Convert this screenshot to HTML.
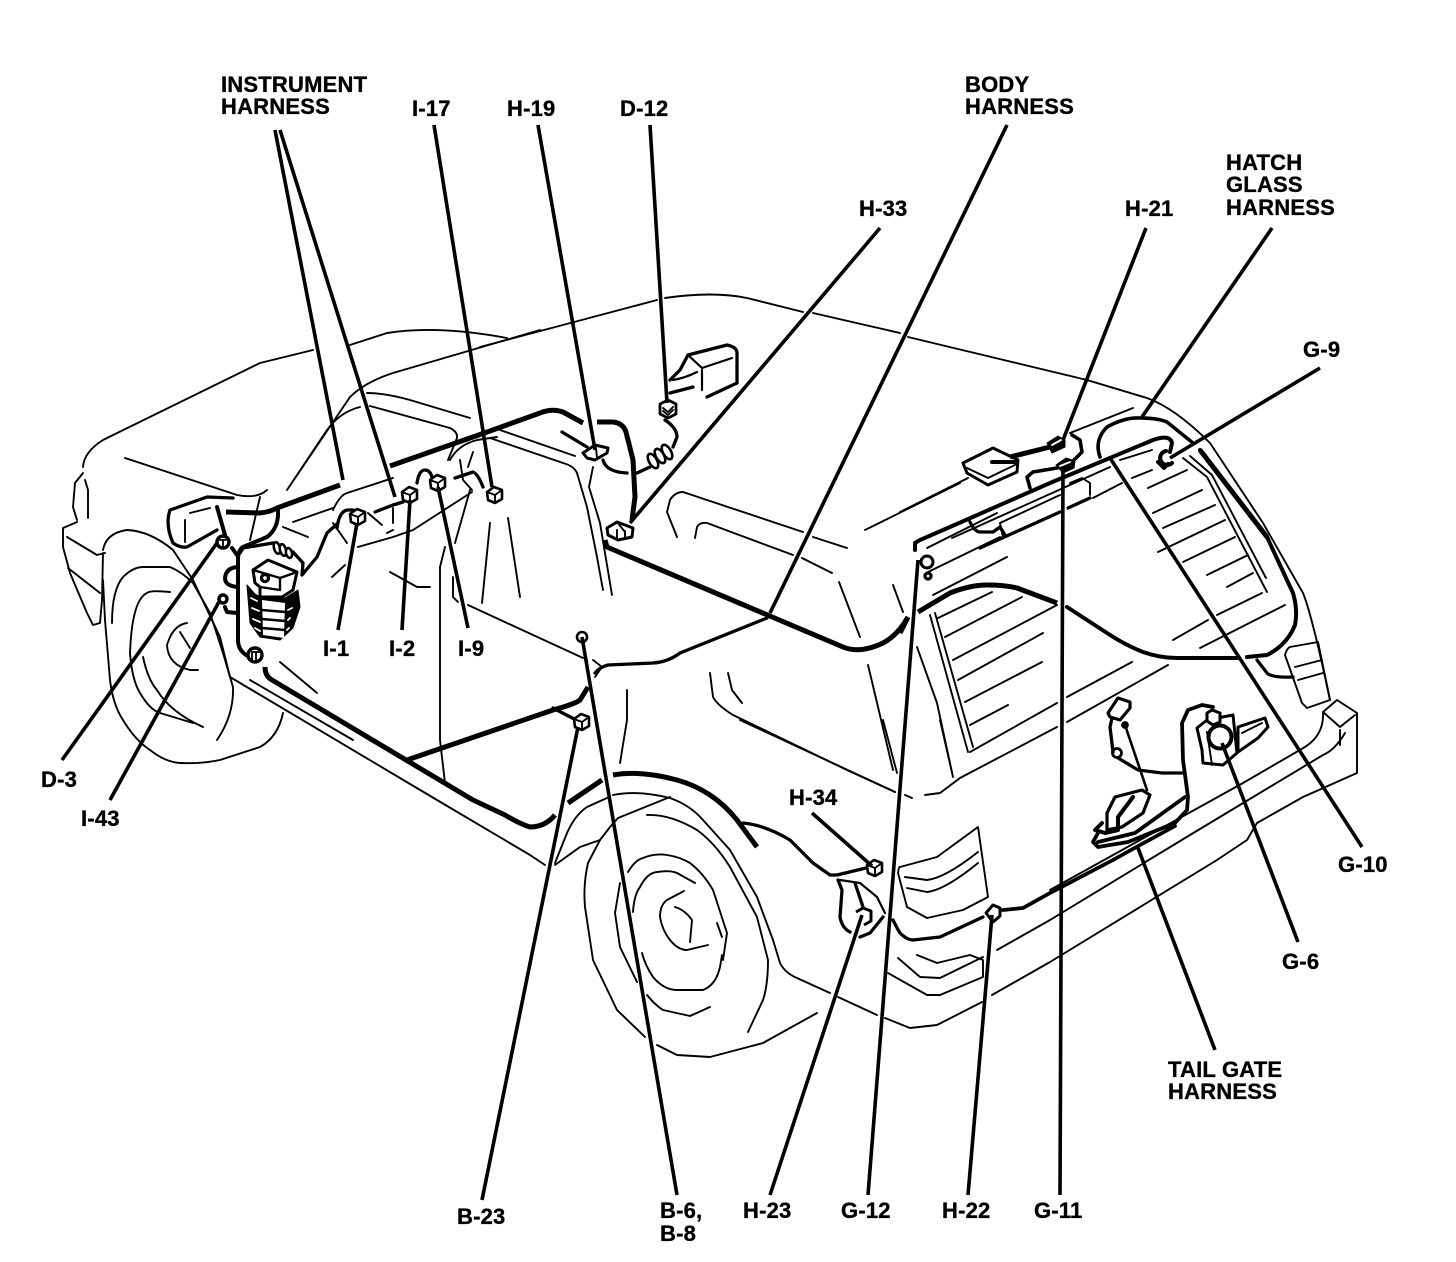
<!DOCTYPE html>
<html><head><meta charset="utf-8"><style>
html,body{margin:0;padding:0;background:#fff}
svg{display:block}
text{font-family:"Liberation Sans",sans-serif;font-weight:700;font-size:22px;letter-spacing:.2px;fill:#000;stroke:#000;stroke-width:.35}
.t{fill:none;stroke:#000;stroke-width:1.9;stroke-linejoin:round;stroke-linecap:round}
.m{fill:none;stroke:#000;stroke-width:3.3;stroke-linejoin:round;stroke-linecap:round}
.k{fill:none;stroke:#000;stroke-width:5;stroke-linejoin:round}
.l{fill:none;stroke:#000;stroke-width:3.6;stroke-linecap:butt}
.c{fill:#fff;stroke:#000;stroke-width:2.6;stroke-linejoin:round}
.b{fill:#000;stroke:#000;stroke-width:1;stroke-linejoin:round}
.w{fill:#fff;stroke:none}
</style></head><body>
<svg width="1456" height="1262" viewBox="0 0 1456 1262" xmlns="http://www.w3.org/2000/svg">
<defs><g id="cube"><path class="c" d="M-8,-3 L-1,-8 L7,-5 L7,4 L0,8 L-7,5 Z"/><path class="t" d="M-8,-3 L0,0 L7,-5 M0,0 L0,8"/></g></defs>

<!-- body outlines -->
<path class="t" d="M83,467 Q84,452 103,440 L260,363 L313,350 M350,345 L387,333 Q437,325 507,338"/>
<path class="t" d="M480,347 L657,300 M665,298 Q713,291 747,298 L803,312 M813,313 L900,333 M908,337 L1087,380 L1147,398 Q1175,408 1210,443 L1263,523 L1303,593 Q1312,615 1330,700"/>
<path class="t" d="M540,330 L393,373 Q365,382 350,397 L287,490 M287,490 L327,430 Q340,412 360,407"/>
<path class="t" d="M367,393 Q385,393 410,400 L470,418 M370,406 L450,428 Q458,432 457,438 L448,460 M450,460 Q458,445 477,440 L497,437 M460,460 L463,480 L472,490 M473,452 L468,467"/>
<path class="t" d="M125,458 L237,495 Q257,499 267,490 M260,497 L250,540"/>
<path class="t" d="M83,473 L75,483 L73,507 L77,520 M85,480 L88,490 L88,518 M77,522 L63,528 L63,547 L70,573 L87,613 L93,625 L100,623 L102,600 L103,553 M67,537 L97,555 L105,553 M68,568 L100,593"/>
<path class="t" d="M103,550 Q106,533 127,530 Q150,531 173,550 L193,580 L220,637 L230,677 L437,800 L530,855 L545,865 M250,680 L353,740"/>
<!-- front wheel -->
<path class="t" d="M103,580 L105,620 L110,680 Q113,705 123,720 Q135,740 150,750 Q165,762 180,763 Q200,764 220,760 L260,747 Q278,737 283,713"/>
<path class="t" d="M112,623 Q112,590 123,577 Q133,567 143,567 L170,567 Q182,572 193,583 L210,613 L223,653 L233,687 Q234,715 217,740"/>
<path class="t" d="M170,592 Q150,590 147,593 Q132,600 130,653 Q132,680 140,693 Q150,710 160,713 L193,723 M143,657 Q148,680 157,690 Q170,712 203,727"/>
<path class="t" d="M187,623 Q173,625 167,645 Q168,665 190,670 L198,670 M180,632 L190,648"/>
<!-- headlight -->
<path class="m" d="M233,498 L207,497 L170,510 Q165,525 173,543 Q180,548 187,547 L217,530"/>
<path class="t" d="M190,513 L210,508 M185,520 L185,542"/>
<path class="m" style="stroke-width:4" d="M217,507 L225,535 M232,548 L237,555"/>
<!-- interior dash -->
<path class="t" d="M293,522 L333,508 M333,510 Q340,495 347,493 L393,478 M333,523 L347,543 M358,547 L393,537 L413,530 L472,492 M387,533 L393,530 M283,527 L308,537 M332,577 L345,565 M390,572 L417,587 L430,587 M280,662 L317,693 M368,513 L382,525 M393,508 L393,523"/>
<path class="t" d="M445,547 L440,567 L440,740 L445,783 M453,577 L453,597 L458,602 M468,605 L583,658 M490,523 L482,603 M508,518 L520,597 M470,490 L455,543"/>
<path class="t" d="M500,430 L575,456 M490,438 L563,463 Q574,466 577,473 L587,507 L597,557 L603,590 M593,467 L589,487 L600,523 L612,595"/>
<path class="t" d="M627,690 L627,720 L620,763 M710,673 L713,697 Q717,705 733,715 L847,770 L895,792 M728,673 L732,690 L742,703 M593,660 L602,667 L595,677"/>
<!-- rear windows -->
<path class="t" d="M667,512 L670,500 Q675,492 683,492 L803,532 M813,537 L847,548 M667,512 L677,537 M695,538 L697,527 Q700,522 707,523 L793,555 M802,558 L832,573 M839,582 L860,637 M893,585 L903,612 M865,530 L960,483 M868,665 L893,770 M917,647 L937,703 L953,777 M883,720 L897,773 M940,720 L953,777"/>
<path class="t" d="M900,512 L968,478 M1070,433 L1133,408 M927,548 L997,513 M933,595 L1007,557 M928,572 L1000,537 M1000,523 L1060,495 M1070,483 L1082,478 L1090,483 L1090,495 M1003,537 L1000,523 M952,538 L1110,467 M1093,498 L1122,483 M1132,478 L1152,470 M1120,460 L1152,450"/>
<path class="m" d="M970,522 Q975,532 980,532 L993,532 L1000,527 L1005,535 M980,548 L1060,512 M1068,508 L1090,498"/>
<!-- hatch glass -->
<path class="t" d="M1183,458 L1207,477 L1267,592 M1190,456 L1212,475 L1266,578"/>
<path class="t" d="M1148,488 L1187,470 M1153,513 L1202,490 M1163,528 L1215,505 M1158,552 L1225,520 M1183,562 L1235,537 M1207,575 L1248,555 M1227,587 L1253,573 M1217,615 L1262,593 M1173,640 L1208,620 M1200,648 L1285,605"/>
<path class="t" d="M930,615 L968,752 M935,613 L973,747 M970,752 L1057,703 M1067,697 L1132,662 M938,618 L992,592 M945,637 L1022,597 M953,660 L1057,605 M958,680 L1043,633 M965,702 L1042,662 M970,725 L1008,705"/>
<path class="t" d="M925,795 L940,793 L960,778 L1057,727 M1067,722 L1168,665 M905,795 L912,798 M740,720 L895,792"/>
<!-- rear corner -->
<path class="t" d="M1285,655 Q1287,648 1290,647 L1318,642 L1330,700 L1307,708 L1302,703 Z M1295,667 L1322,660 M1298,680 L1323,673"/>
<path class="t" d="M1323,712 L1337,700 L1357,713 L1357,773 L1303,797 L1257,823 L1247,840 L1217,860 L1050,962 L992,995 M1323,712 L1340,727 L1355,715 M1340,730 L1340,745 M1323,713 Q1324,735 1305,747 L1243,783 L1050,890 M1345,733 Q1335,750 1323,755 L1190,835 L1050,920 L997,950"/>
<!-- side tail lamp -->
<path class="t" d="M898,873 Q899,866 900,867 L937,857 L978,827 L988,897 L963,910 L927,918 L907,907 Z M905,877 L927,880 Q945,878 978,852 M907,888 L927,892 Q945,890 978,863"/>
<path class="t" d="M898,958 L920,977 L940,978 L983,957 M888,973 L927,995 L940,995 L983,977 L983,960 L970,955 L937,963 L917,955 M885,1018 L910,1028 L937,1025 L982,1002 M838,997 L877,1015 M773,940 L780,963 Q785,973 797,978 L830,993"/>
<!-- rear wheel -->
<path class="t" d="M613,795 Q637,790 670,798 Q690,805 703,820 L730,850 L757,897 L773,940 M618,818 L670,797 M647,815 Q670,814 697,830 Q715,843 730,867 L757,917 L768,960 Q768,985 763,1000 L748,1032"/>
<path class="t" d="M600,840 L588,863 Q583,885 585,907 L593,960 L617,1010 L645,1037 M657,1045 L677,1055 L710,1057 L763,1043 L817,1013"/>
<path class="t" d="M620,883 L615,913 L620,947 L637,982 M628,872 Q635,860 643,858 Q655,853 667,855 Q680,857 690,863 Q703,873 713,890 L727,933 L723,960 M633,912 Q634,895 640,887 Q647,873 657,872 Q670,870 677,873 L695,883"/>
<path class="t" d="M684,891 L667,900 Q660,905 660,917 Q662,930 670,940 Q678,950 687,950 L708,945 M675,907 Q685,910 692,920 L690,942 M642,953 Q645,965 653,977 Q664,990 677,990 L703,990 Q716,985 720,967 L722,955 M647,995 Q655,1005 663,1010 L690,1016 L710,1007 M717,923 L722,937"/>
<path class="t" d="M555,865 L580,847 L600,840 M555,863 L567,833 Q575,815 587,807 L607,798 M618,818 L610,827 L600,840"/>

<!-- thick harnesses -->
<path class="k" d="M226,512 L260,513 Q270,512 277,508 L340,485 M390,466 L490,431 L540,413 Q552,408 563,412 L583,423 M597,422 L613,422 Q623,423 626,432 L633,460 L635,497 L632,520"/>
<path class="m" style="stroke-width:4" d="M278,510 Q279,528 267,537 L243,547 Q238,550 238,560 L238,640 Q238,652 250,657"/>
<path class="k" d="M265,667 Q265,676 272,680 L473,800 L505,815 Q520,824 530,827 Q545,827 555,815 M568,803 L602,780 M613,775 Q640,770 677,780 Q695,785 710,795 Q725,805 737,820 L757,847"/>
<path class="m" d="M743,823 Q765,825 790,840 L813,863 L830,875 L837,875 L870,867 M838,880 L842,890 L840,917 Q842,928 850,932 M855,883 L863,907 M860,937 L870,933 L883,917"/>
<path class="t" style="stroke-width:2.2" d="M840,880 L860,883 L877,897 L885,913"/>
<path class="k" d="M407,760 L553,710 Q575,704 580,700 L588,687"/>
<path class="m" d="M595,673 Q600,667 608,665 L653,663 Q668,662 680,653 L767,618 M553,708 L578,721"/>
<path class="k" d="M605,540 L607,547 L843,647 Q860,654 883,643 Q898,635 908,617 M900,633 L908,617 M918,612 L950,593 Q970,585 987,585 Q1005,585 1017,588 L1057,603"/>
<path class="m" style="stroke-width:4" d="M1067,607 L1107,633 Q1125,645 1143,652 Q1160,658 1177,658 L1237,658 M1247,657 L1267,655 Q1287,645 1295,625 Q1298,610 1293,593 L1267,537 L1200,450"/>
<path class="k" d="M1267,537 L1200,450"/>
<path class="m" style="stroke-width:3.6" d="M1100,457 Q1094,440 1107,427 Q1125,417 1140,418 Q1158,418 1167,422 L1193,443"/>
<path class="m" d="M1257,660 L1267,673 Q1272,678 1293,677"/>
<path class="m" style="stroke-width:4" d="M915,550 L915,543 L920,540 L950,527 L1050,483 L1153,440 Q1170,434 1172,443 L1170,452"/>
<!-- hatch devices -->
<path class="c" style="stroke-width:3" d="M963,463 L993,448 L1018,460 L1017,472 L988,485 L967,473 Z"/>
<path class="m" style="stroke-width:4" d="M992,462 L1015,462"/>
<path class="t" d="M967,468 L988,478 L1017,464"/>
<path class="k" d="M1010,457 L1050,447"/>
<path class="m" style="stroke-width:3.6" d="M1072,435 L1080,440 L1082,452 L1072,462 M1057,468 L1033,472 L1027,477 L1030,488"/>
<path class="b" d="M1047,443 L1058,436 L1065,440 L1065,447 L1052,453 Z"/>
<path class="b" d="M1056,465 L1066,458 L1075,461 L1074,468 L1063,473 Z"/>
<path class="t" style="stroke:#fff" d="M1052,445 L1061,440 M1060,466 L1070,462"/>
<!-- G-9 / G-12 -->
<path class="m" style="stroke-width:4" d="M1166,451 A7,7 0 1 0 1172,463 M1158,462 L1164,468 L1168,464"/>
<circle class="c" cx="927" cy="562" r="6" style="stroke-width:3"/>
<circle class="m" cx="928" cy="576" r="3"/>
<!-- tail gate wiring -->
<path class="m" style="stroke-width:3.8" d="M1003,910 L1023,908 L1050,893 L1113,860 L1140,845 L1175,826"/>
<path class="m" style="stroke-width:3.8" d="M1213,707 L1202,705 L1188,710 L1182,723 L1183,760 L1188,797 L1187,810 L1175,823 L1128,842 L1098,847 L1093,842 L1098,833 M1098,842 L1135,833 L1185,797"/>
<path class="m" d="M893,920 Q898,930 900,933 Q907,940 913,940 L940,937 L983,917"/>
<path class="m" d="M1112,718 L1110,727 L1113,752 M1118,758 L1138,770 L1162,773 L1183,773"/>
<path class="t" style="stroke-width:2.6" d="M1125,725 L1147,790"/>
<path class="c" style="stroke-width:3.2" d="M1107,813 L1115,797 L1142,790 L1150,795 L1143,813 L1122,827 L1107,830 Z"/>
<path class="m" style="stroke-width:4" d="M1102,823 L1095,830 L1105,833 L1118,830 L1118,817 L1133,797"/>
<path class="c" style="stroke-width:3.2" d="M1108,713 L1118,698 L1130,702 L1130,708 L1120,720 L1110,717 Z"/>
<circle class="m" cx="1125" cy="725" r="2.2"/>
<circle class="t" cx="1117" cy="753" r="4.5" style="stroke-width:2.8"/>
<!-- motor -->
<path class="c" style="stroke-width:3" d="M1238,727 L1265,718 L1268,727 L1258,738 L1238,752 Z"/>
<path class="t" d="M1242,733 L1262,723"/>
<path class="c" style="stroke-width:3" d="M1197,728 L1207,720 L1233,715 L1237,753 L1223,765 L1203,763 L1202,750 Z"/>
<path class="t" d="M1207,732 L1212,765"/>
<circle class="m" cx="1220" cy="737" r="11.5" style="stroke-width:4"/>
<path class="c" style="stroke-width:3" d="M1207,713 L1212,710 L1220,713 L1220,722 L1213,725 L1207,721 Z"/>
<!-- front electrical -->
<path class="m" d="M240,553 L243,548 L273,543 M293,552 L303,563 L302,575 M302,575 L317,557 L327,533 L338,523 M337,528 Q339,512 347,510 L353,510 M375,512 L393,505 L403,502 M417,483 Q419,470 425,470 Q430,470 432,477 M455,478 L473,472 Q478,474 483,487"/>
<path class="m" style="stroke-width:4" d="M237,567 Q226,568 225,578 Q225,586 238,587 M225,607 L227,612 L237,613"/>
<ellipse class="c" cx="277" cy="548" rx="3" ry="6" transform="rotate(-15 277 548)"/>
<ellipse class="c" cx="283" cy="550" rx="3" ry="6" transform="rotate(-15 283 550)"/>
<ellipse class="c" cx="289" cy="553" rx="3" ry="5" transform="rotate(-15 289 553)"/>
<path class="b" d="M247,585 L250,623 L260,637 L280,640 L293,628 L300,607 L298,590 L285,598 L262,598 L255,594 Z"/>
<path class="w" d="M262,600 L285,603 L284,638 L263,635 Z"/>
<path class="m" style="stroke-width:2.4" d="M262,610 L285,612 M262,619 L285,621 M262,628 L285,630"/>
<path class="t" style="stroke:#fff;stroke-width:1.8" d="M251,598 L257,601 M252,608 L259,611 M253,619 L260,622 M255,628 L260,631 M288,610 L292,608 M288,620 L290,618 M287,630 L289,628"/>
<path class="c" style="stroke-width:3" d="M253,570 L268,560 L297,572 L293,590 L282,597 L260,597 L260,587 L255,583 Z"/>
<path class="t" style="stroke-width:2.4" d="M253,570 L280,578 L297,572 M280,578 L280,590 M260,587 L280,590"/>
<circle class="m" cx="265" cy="578" r="3.5"/>
<circle class="c" cx="223" cy="599" r="4" style="stroke-width:3.4"/>
<use href="#cube" x="358" y="517"/>
<use href="#cube" x="410" y="495"/>
<use href="#cube" x="438" y="483"/>
<use href="#cube" x="495" y="495"/>
<circle class="c" cx="223" cy="542" r="6" style="stroke-width:3.4"/>
<path class="t" style="stroke-width:1.8" d="M220,540 L226,540 M223,540 L223,547"/>
<circle class="c" cx="255" cy="655" r="7" style="stroke-width:3.4"/>
<path class="t" style="stroke-width:1.8" d="M252,652 L252,660 M256,652 L256,661 M252,652 L259,652"/>
<!-- mirror and D-12 -->
<path class="m" d="M670,380 L680,370 L688,355 L727,345 Q737,347 737,353 L737,383 L707,397 M670,393 L693,387"/>
<path class="t" style="stroke-width:2.2" d="M688,355 L702,368 L732,358 M702,370 L702,390 M673,380 Q685,378 697,372"/>
<path class="c" style="stroke-width:2.8" d="M660,404 L668,400 L676,404 L676,414 L668,418 L660,414 Z"/>
<path class="t" d="M663,408 L668,412 L673,407 M663,411 L668,415 L673,410"/>
<path class="m" d="M665,420 Q677,428 677,437 L673,447"/>
<path class="m" d="M562,432 L587,447 M603,460 Q606,472 627,473 M637,473 L650,467"/>
<ellipse class="c" cx="653" cy="461" rx="4" ry="8" transform="rotate(-30 653 461)"/>
<ellipse class="c" cx="660" cy="456" rx="4" ry="8" transform="rotate(-30 660 456)"/>
<ellipse class="c" cx="667" cy="452" rx="4" ry="8" transform="rotate(-30 667 452)"/>
<path class="c" style="stroke-width:3" d="M583,453 L595,445 L608,448 L607,453 L595,460 L587,458 Z"/>
<path class="t" d="M596,448 L597,458"/>
<path class="c" style="stroke-width:3" d="M607,528 L617,522 L633,528 L632,537 L618,540 L608,535 Z"/>
<path class="t" d="M617,530 L617,540 M625,531 L625,539 M617,522 L625,532"/>
<circle class="c" cx="582" cy="637" r="5"/>
<use href="#cube" x="582" y="722"/>
<use href="#cube" x="875" y="868"/>
<path class="c" style="stroke-width:3" d="M856,912 L863,908 L871,911 L871,921 L864,925"/>
<path class="c" style="stroke-width:3" d="M986,913 L993,905 L1000,908 L1000,916 L993,922 Z"/>

<!-- leaders -->
<path class="l" d="M275,130 L343,480 M280,130 L395,497 M434,125 L492,487 M538,125 L595,450 M650,125 L667,403 M880,228 L630,523 M1007,125 L770,613 M1146,228 L1063,440 M1272,228 L1142,417 M1320,368 L1170,458 M1362,847 L1110,458 M1298,942 L1222,743 M1215,1050 L1138,848 M1060,1195 L1063,470 M968,1195 L992,915 M868,1195 L918,560 M770,1195 L862,915 M812,813 L872,866 M677,1195 L582,637 M482,1200 L578,727 M62,760 L217,543 M110,800 L220,600 M338,630 L357,523 M402,630 L410,500 M468,628 L438,487"/>

<!-- labels -->
<text x="221" y="92">INSTRUMENT</text><text x="221" y="114">HARNESS</text>
<text x="412" y="116">I-17</text><text x="507" y="116">H-19</text><text x="620" y="116">D-12</text>
<text x="859" y="216">H-33</text><text x="965" y="92">BODY</text><text x="965" y="114">HARNESS</text>
<text x="1226" y="170">HATCH</text><text x="1226" y="192">GLASS</text><text x="1226" y="215">HARNESS</text>
<text x="1125" y="216">H-21</text><text x="1303" y="357">G-9</text><text x="1338" y="872">G-10</text>
<text x="1282" y="969">G-6</text><text x="1168" y="1077">TAIL GATE</text><text x="1168" y="1099">HARNESS</text>
<text x="1034" y="1218">G-11</text><text x="942" y="1218">H-22</text><text x="841" y="1218">G-12</text>
<text x="743" y="1218">H-23</text><text x="789" y="805">H-34</text><text x="660" y="1218">B-6,</text>
<text x="660" y="1241">B-8</text><text x="457" y="1224">B-23</text><text x="41" y="787">D-3</text>
<text x="81" y="826">I-43</text><text x="323" y="656">I-1</text><text x="389" y="656">I-2</text><text x="458" y="656">I-9</text>
</svg>
</body></html>
